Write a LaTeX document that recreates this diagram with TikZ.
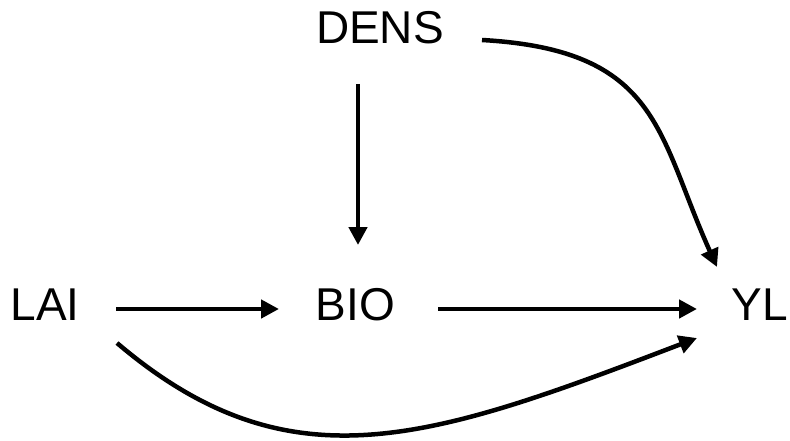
\documentclass[tikz,border=0pt]{standalone}
\usepackage{fontspec}
\setmainfont{Liberation Sans}
\usetikzlibrary{arrows.meta}
\begin{document}
\begin{tikzpicture}[x=1pt,y=-1pt,
  lbl/.style={inner sep=0pt, outer sep=0pt, text height=33pt, text depth=0pt,
    font=\fontsize{46}{50}\selectfont},
  arr/.style={line width=4.5pt, -{Triangle[length=18pt,width=18pt]}}]
\useasboundingbox (0,0) rectangle (790,441);
\node[lbl] (DENS) at (380,27.5) {DENS};
\node[lbl] (LAI) at (45,304) {LAI};
\node[lbl] (BIO) at (355.5,304) {BIO};
\node[lbl] (YL) at (760,304) {YL};
\draw[arr] ([shift={(71,5)}]LAI.center) -- ([shift={(-76.5,5)}]BIO.center);
\draw[arr] ([shift={(82.5,5)}]BIO.center) -- ([shift={(-63,5)}]YL.center);
\draw[arr] ([shift={(-22,56.5)}]DENS.center) -- ([shift={(2.5,-59)}]BIO.center);
\draw[arr] ([shift={(102,12.5)}]DENS.center) .. controls (660,50) and (657,134) .. ([shift={(-43,-37)}]YL.center);
\draw[arr] ([shift={(72,39)}]LAI.center) .. controls (290,490) and (430,440) .. ([shift={(-63,34)}]YL.center);
\end{tikzpicture}
\end{document}
